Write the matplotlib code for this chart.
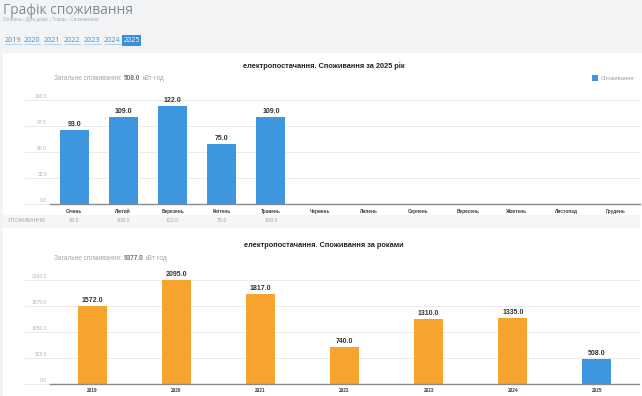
import matplotlib
matplotlib.use("Agg")
import matplotlib.pyplot as plt
from matplotlib.transforms import blended_transform_factory, offset_copy
from matplotlib.patches import Rectangle
from matplotlib.lines import Line2D

# ---------------- data ----------------
months = ["Січень", "Лютий", "Березень", "Квітень", "Травень", "Червень",
          "Липень", "Серпень", "Вересень", "Жовтень", "Листопад", "Грудень"]
month_values = [93.0, 109.0, 122.0, 75.0, 109.0]
month_ticks = [0.0, 32.5, 65.0, 97.5, 130.0]

years = ["2019", "2020", "2021", "2022", "2023", "2024", "2025"]
year_values = [1572.0, 2095.0, 1817.0, 740.0, 1310.0, 1335.0, 508.0]
year_ticks = [0.0, 525.0, 1050.0, 1575.0, 2100.0]

title_month = "електропостачання. Споживання за 2025 рік"
title_year = "електропостачання. Споживання за роками"
series_name = "Споживання"
row_label = "СПОЖИВАННЯ"
total_month = "508.0"
total_year = "9377.0"

BLUE = "#3d96de"
ORANGE = "#f6a42e"

W, H = 642, 396
fig = plt.figure(figsize=(W / 100, H / 100), dpi=100)
fig.patch.set_facecolor("#f2f3f5")
plt.rcParams['font.family'] = ['Liberation Sans', 'DejaVu Sans']

def fx(x):
    return x / W

def fy(y):
    return 1 - y / H

# white panel
fig.add_artist(Rectangle((fx(3), 0), fx(639), fy(53), transform=fig.transFigure,
                         facecolor="white", edgecolor="none", zorder=-2))

# header
fig.text(fx(3), fy(10.5), "Графік споживання", fontsize=9.9, color="#858a90",
         family=["Open Sans", "DejaVu Sans"], va="center", ha="left")
fig.text(fx(3), fy(20), "Головна › Для дому › Товар › Споживання", fontsize=3.5,
         color="#a8adb3", va="center", ha="left")
link_x = [5, 24, 44, 64, 84, 104, 124]
renderer = fig.canvas.get_renderer()
for lx, yr in zip(link_x, years):
    if yr == "2025":
        fig.add_artist(Rectangle((fx(lx - 2), fy(46)), fx(19), 11 / H,
                                 transform=fig.transFigure, facecolor="#3b8fd6",
                                 edgecolor="none"))
        fig.text(fx(lx), fy(40.5), yr, fontsize=5.2, color="white",
                 va="center", ha="left", family=["Open Sans", "DejaVu Sans"])
    else:
        t = fig.text(fx(lx), fy(40.5), yr, fontsize=5.2, color="#4e8fc4",
                     va="center", ha="left", family=["Open Sans", "DejaVu Sans"])
        w = t.get_window_extent(renderer).width
        fig.add_artist(Line2D([fx(lx), fx(lx + w)], [fy(43.8), fy(43.8)],
                              transform=fig.transFigure, color="#8fb6d8", lw=0.4))

def mixed(x, y, total):
    parts = [("Загальне споживання:", "normal", "#a0a4a8", 2.2),
             (total, "bold", "#707478", 2.2),
             ("кВт·год", "normal", "#a0a4a8", 0)]
    cx = x
    for s, wgt, col, gap in parts:
        t = fig.text(fx(cx), fy(y), s, fontsize=4.7, fontweight=wgt, color=col,
                     va="center", ha="left")
        cx += t.get_window_extent(renderer).width + gap

def make_axes(top, bottom, left, right):
    ax = fig.add_axes([fx(left), fy(bottom), fx(right - left), (bottom - top) / H])
    ax.set_facecolor("none")
    for s in ax.spines.values():
        s.set_visible(False)
    ax.set_xticks([])
    ax.set_yticks([])
    return ax

def style_y(ax, ticks, left_px, ax_left, ax_w):
    xmin = (left_px - ax_left) / ax_w
    for v in ticks:
        if v == 0:
            ax.axhline(v, xmin=xmin, xmax=0.0,
                       color="#e6e6e6", lw=0.6, clip_on=False, zorder=1)
            ax.axhline(v, xmin=0, xmax=1, color="#8a8a8a", lw=1.0,
                       clip_on=False, zorder=3)
        else:
            ax.axhline(v, xmin=xmin, xmax=1, color="#e8e8e8", lw=0.6,
                       clip_on=False, zorder=1)
        tr = offset_copy(blended_transform_factory(fig.transFigure, ax.transData),
                         fig=fig, y=3.5, units="dots")
        ax.text(fx(47), v, f"{v:.1f}", transform=tr, fontsize=3.6, color="#b4b4b4",
                ha="right", va="center", clip_on=False)

# ---------------- chart 1 ----------------
fig.text(fx(324), fy(66), title_month, fontsize=5.3, fontweight="bold",
         color="#222222", ha="center", va="center")
mixed(54, 79, total_month)
fig.add_artist(Rectangle((fx(592), fy(80.5)), fx(5.5), 5.5 / H,
                         transform=fig.transFigure, facecolor=BLUE, edgecolor="none"))
fig.text(fx(601), fy(78), series_name, fontsize=4.2, color="#9a9ea3",
         ha="left", va="center")

a1_left, a1_right = 49.5, 640
ax1 = make_axes(100, 204, a1_left, a1_right)
ax1.set_xlim(-0.5, len(months) - 0.5)
ax1.set_ylim(0, 130)
xs1 = list(range(len(month_values)))
bars = ax1.bar(xs1, month_values, width=0.59, color=BLUE, zorder=2)
for b, v in zip(bars, month_values):
    ax1.annotate(f"{v:.1f}", (b.get_x() + b.get_width() / 2, v), xytext=(0, 1.5),
                 textcoords="offset points", ha="center", va="bottom",
                 fontsize=5, fontweight="bold", color="#333333")
style_y(ax1, month_ticks, 25, a1_left, a1_right - a1_left)

tb1 = blended_transform_factory(ax1.transData, fig.transFigure)
for i, m in enumerate(months):
    ax1.text(i, fy(211), m, transform=tb1, fontsize=3.4, color="#3c3c3c",
             ha="center", va="center", fontweight="bold", clip_on=False)
# table row
fig.add_artist(Rectangle((fx(3), fy(228)), fx(637), 13 / H, transform=fig.transFigure,
                         facecolor="#f6f6f6", edgecolor="none", zorder=-1))
fig.text(fx(8), fy(221), row_label, fontsize=3.8, color="#a6a6a6",
         ha="left", va="center")
for i, v in enumerate(month_values):
    ax1.text(i, fy(221), f"{v:.1f}", transform=tb1, fontsize=3.8, color="#a6a6a6",
             ha="center", va="center", clip_on=False)

# ---------------- chart 2 ----------------
fig.text(fx(324), fy(245), title_year, fontsize=5.3, fontweight="bold",
         color="#222222", ha="center", va="center")
mixed(54, 259, total_year)

a2_left, a2_right = 50, 639
ax2 = make_axes(280, 384, a2_left, a2_right)
ax2.set_xlim(-0.5, len(years) - 0.5)
ax2.set_ylim(0, 2100)
colors2 = [ORANGE] * (len(years) - 1) + [BLUE]
bars2 = ax2.bar(range(len(years)), year_values, width=0.345, color=colors2, zorder=2)
for b, v in zip(bars2, year_values):
    ax2.annotate(f"{v:.1f}", (b.get_x() + b.get_width() / 2, v), xytext=(0, 1.5),
                 textcoords="offset points", ha="center", va="bottom",
                 fontsize=5, fontweight="bold", color="#333333")
style_y(ax2, year_ticks, 25, a2_left, a2_right - a2_left)
tb2 = blended_transform_factory(ax2.transData, fig.transFigure)
for i, y in enumerate(years):
    ax2.text(i, fy(390.5), y, transform=tb2, fontsize=3.4, color="#3c3c3c",
             ha="center", va="center", fontweight="bold", clip_on=False)

fig.savefig("out.png", dpi=100, facecolor=fig.get_facecolor())
